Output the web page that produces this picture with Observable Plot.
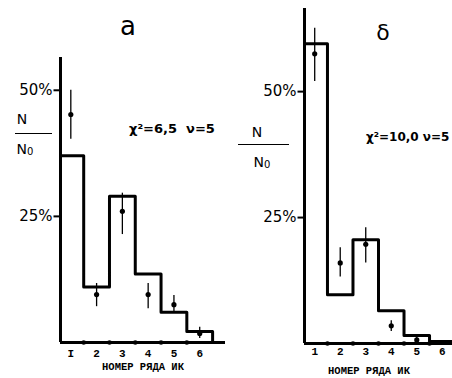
<!DOCTYPE html>
<html><head><meta charset="utf-8">
<script src="https://cdn.jsdelivr.net/npm/d3@7"></script>
<script src="https://cdn.jsdelivr.net/npm/@observablehq/plot@0.6"></script>
<style>
html,body{margin:0;padding:0;background:#fff;overflow:hidden;}
#wrap{position:relative;width:452px;height:378px;overflow:hidden;}
.panel{position:absolute;top:0;}
.ann{position:absolute;font-family:"DejaVu Sans",sans-serif;color:#000;white-space:nowrap;line-height:1;transform:translate(-50%,-50%);}
.ann.left{transform:translate(0,-50%);}
.ann sub{font-size:10px;vertical-align:-1px;}
.bar{position:absolute;height:0;border-top:1.5px solid #000;}
</style></head><body>
<div id="wrap"></div>
<script>
// ---- data ----
const bins = [1, 2, 3, 4, 5, 6];
const tickLabelsA = ["I", "2", "3", "4", "5", "6"];
const tickLabelsB = ["1", "2", "3", "4", "5", "6"];
const yTicks = [25, 50];
const axisTitle = "НОМЕР РЯДА ИК";

// panel а
const histA   = [37, 11, 29, 13.6, 6, 2.2];
const pointsA = [45.2, 9.5, 26, 9.5, 7.5, 1.8];
const errLoA  = [40.3, 7.1, 21.4, 6.7, 6, 0.8];
const errHiA  = [50, 11.7, 29.6, 11.7, 9.3, 3];

// panel δ
const histB   = [59.5, 9.7, 20.6, 6.5, 1.6, 0.4];
const pointsB = [57.5, 16, 19.7, 3.5, 0.7];
const errLoB  = [52, 13.2, 16, 2.4, 0.2];
const errHiB  = [62.6, 19, 23, 4.5, 1.2];

// short dash pointing left, used as y tick mark
const leftDash = {draw(ctx) { ctx.moveTo(-7, 0); ctx.lineTo(0, 0); }};

function panel(o) {
  const x0 = o.xDomain[0];
  const yMax = o.yMax;
  const steps = [{x: x0, y: 0}]
    .concat(o.hist.map((v, i) => ({x: i === 0 ? x0 : bins[i] - 0.5, y: v})))
    .concat([{x: bins[bins.length - 1] + 0.5, y: 0}]);
  const points = o.pts.map((v, i) => ({bin: bins[i], v, lo: o.lo[i], hi: o.hi[i]}));
  const bounds = bins.slice(1).map(b => b - 0.5);
  return Plot.plot({
    width: o.width, height: 378,
    marginLeft: o.marginLeft, marginRight: o.marginRight,
    marginTop: o.marginTop, marginBottom: o.marginBottom,
    x: {domain: o.xDomain},
    y: {domain: [0, yMax]},
    style: {background: "transparent", color: "#000", fontFamily: "DejaVu Sans, sans-serif", overflow: "visible"},
    marks: [
      Plot.ruleX([x0], {y1: 0, y2: yMax, strokeWidth: 3}),
      Plot.ruleY([0], {strokeWidth: 3}),
      Plot.dot(bounds, {x: d => d, y: () => 0, r: 2.3, fill: "#000"}),
      Plot.line(steps, {x: "x", y: "y", curve: "step-after", strokeWidth: 3, clip: true}),
      Plot.ruleX(points, {x: "bin", y1: "lo", y2: "hi", strokeWidth: 1.3}),
      Plot.dot(points, {x: "bin", y: "v", r: 2.6, fill: "#000"}),
      Plot.dot(yTicks, {x: () => x0, y: d => d, symbol: leftDash, fill: "none", stroke: "#000", strokeWidth: 2}),
      Plot.axisY({ticks: yTicks, tickFormat: d => d + "%", tickSize: 0, tickPadding: 8,
                  fontSize: 15, label: null}),
      Plot.axisX({ticks: bins, tickFormat: d => o.labels[bins.indexOf(d)], tickSize: 0,
                  tickPadding: o.tickPad, label: null, fontSize: 11,
                  fontFamily: "Liberation Mono, DejaVu Sans Mono, monospace", fontWeight: "bold"}),
      Plot.text([axisTitle], {frameAnchor: "bottom", dx: o.titleDx, dy: o.titleDy, fontSize: 10.5,
                  fontFamily: "Liberation Mono, DejaVu Sans Mono, monospace", fontWeight: "bold"})
    ]
  });
}

const wrap = document.getElementById("wrap");

const pa = panel({hist: histA, pts: pointsA, lo: errLoA, hi: errHiA, labels: tickLabelsA,
  xDomain: [0.6, 7], yMax: 56.5, width: 226, marginLeft: 60, marginRight: 1,
  marginTop: 57, marginBottom: 36, tickPad: 7, titleDx: 0, titleDy: 27});
pa.classList.add("panel"); pa.style.left = "0px";
wrap.appendChild(pa);

const pb = panel({hist: histB, pts: pointsB, lo: errLoB, hi: errHiB, labels: tickLabelsB,
  xDomain: [0.6, 6.4], yMax: 66.5, width: 226, marginLeft: 78, marginRight: 0,
  marginTop: 8, marginBottom: 35, tickPad: 4, titleDx: -9.5, titleDy: 30});
pb.classList.add("panel"); pb.style.left = "226px";
wrap.appendChild(pb);

function ann(text, x, y, size, cls, weight) {
  const d = document.createElement("div");
  d.className = "ann" + (cls ? " " + cls : "");
  d.style.left = x + "px"; d.style.top = y + "px"; d.style.fontSize = size + "px";
  if (weight) d.style.fontWeight = weight;
  d.innerHTML = text;
  wrap.appendChild(d);
}
function bar(x1, x2, y) {
  const d = document.createElement("div");
  d.className = "bar";
  d.style.left = x1 + "px"; d.style.width = (x2 - x1) + "px"; d.style.top = y + "px";
  wrap.appendChild(d);
}

// panel letters
ann("а", 128, 26, 26);
ann("δ", 383, 33, 22);
// chi-square notes
ann("χ²=6,5&nbsp; ν=5", 129, 128, 13, "left", "bold");
ann("χ²=10,0 ν=5", 366, 137, 12, "left", "bold");
// N / N0
ann("N", 22, 119, 14); bar(15, 52, 133); ann("N<sub>0</sub>", 25, 149, 14);
ann("N", 257, 132, 14); bar(238, 289, 144); ann("N<sub>0</sub>", 262, 162, 14);
</script>
</body></html>
